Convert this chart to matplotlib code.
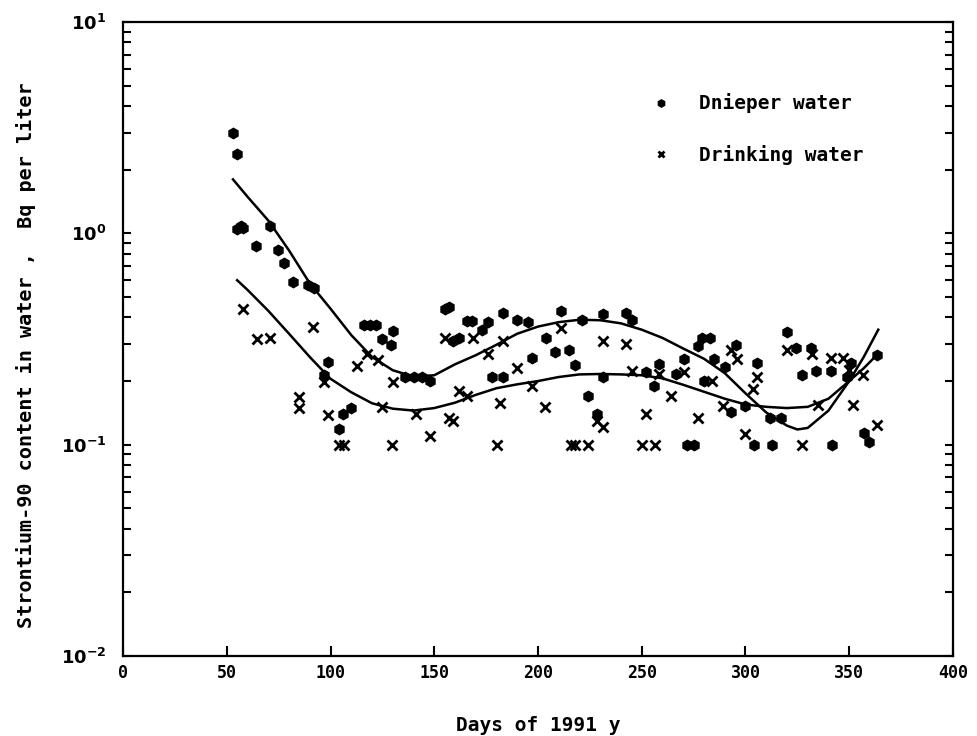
import numpy as np
import matplotlib
matplotlib.use("Agg")
import matplotlib.pyplot as plt

# Dnieper water measurements (day, Bq/l)
dnieper_day = [53, 55, 55, 57, 58, 64, 71, 74.6, 77.5, 82, 89, 92,
               97, 99, 104, 106, 110,
               116, 119, 122, 125, 129, 130,
               136, 140, 144, 148,
               155, 157, 159, 162, 166, 168, 173, 176, 178, 183, 183, 190, 195, 197,
               204, 208, 211, 215, 218, 221, 224, 228.6, 231.5, 231.5, 242.6, 245.5,
               252, 256, 258.5, 266.7, 270.5, 272, 275,
               277, 279, 283, 280, 285, 290, 293, 295.5, 300, 304, 305.6,
               312, 313, 317, 320, 324.4, 327.3, 331.6, 334, 341.3, 341.8,
               349, 351, 357, 359.6, 363.4]
dnieper_val = [3.0, 2.37, 1.05, 1.08, 1.06, 0.87, 1.08, 0.83, 0.72, 0.59, 0.57, 0.55,
               0.213, 0.246, 0.119, 0.14, 0.149,
               0.37, 0.37, 0.37, 0.316, 0.296, 0.345,
               0.21, 0.21, 0.21, 0.20,
               0.44, 0.45, 0.31, 0.32, 0.385, 0.385, 0.35, 0.38, 0.21, 0.21, 0.42, 0.39, 0.38, 0.257,
               0.32, 0.274, 0.43, 0.28, 0.238, 0.39, 0.17, 0.14, 0.415, 0.209, 0.42, 0.39,
               0.22, 0.19, 0.24, 0.215, 0.254, 0.1, 0.1,
               0.293, 0.32, 0.32, 0.20, 0.254, 0.233, 0.143, 0.296, 0.152, 0.1, 0.243,
               0.134, 0.1, 0.134, 0.34, 0.286, 0.213, 0.286, 0.223, 0.223, 0.1,
               0.209, 0.243, 0.113, 0.103, 0.265]

# Drinking water measurements
drink_day = [58, 64.5, 71, 84.7, 84.7, 91.5, 97, 99, 104, 106.4, 112.6, 117.4, 122.7,
             125, 129.5, 130, 141, 147.8, 155, 157, 159, 161.7, 166, 168.5, 175.7,
             180, 181.5, 183, 190, 197, 203.6, 211, 216, 218, 224.3, 228.6, 231.5,
             231.5, 242.6, 245.5, 250, 252, 256.6, 258.5, 264, 270.5, 277, 284, 289,
             293, 296, 300, 303.7, 305.6, 320, 327, 332, 335, 341, 347, 350, 352,
             356.7, 363.4]
drink_val = [0.44, 0.316, 0.32, 0.168, 0.149, 0.36, 0.198, 0.138, 0.1, 0.1, 0.235, 0.268, 0.251,
             0.15, 0.1, 0.198, 0.14, 0.11, 0.32, 0.134, 0.13, 0.18, 0.17, 0.32, 0.27,
             0.1, 0.157, 0.31, 0.23, 0.19, 0.151, 0.356, 0.1, 0.1, 0.1, 0.13, 0.121,
             0.31, 0.30, 0.223, 0.1, 0.14, 0.1, 0.215, 0.17, 0.22, 0.134, 0.20, 0.152,
             0.28, 0.254, 0.112, 0.183, 0.21, 0.28, 0.1, 0.27, 0.154, 0.257, 0.257, 0.225, 0.154,
             0.213, 0.124]

# fitted trend curves
fit_d_day = [53, 60, 70, 80, 90, 100, 110, 120, 130, 140, 150, 160, 170, 180, 190, 200,
             210, 220, 230, 240, 250, 260, 270, 280, 290, 300, 310, 320, 325, 330, 340,
             350, 357, 364]
fit_d_val = [1.8, 1.49, 1.15, 0.83, 0.58, 0.44, 0.33, 0.26, 0.225, 0.21, 0.213, 0.24,
             0.265, 0.297, 0.335, 0.362, 0.38, 0.39, 0.388, 0.375, 0.35, 0.32, 0.285,
             0.255, 0.218, 0.175, 0.142, 0.123, 0.118, 0.12, 0.145, 0.2, 0.26, 0.35]
fit_w_day = [55, 60, 70, 80, 90, 100, 110, 120, 130, 140, 150, 160, 170, 180, 190, 200,
             210, 220, 230, 240, 250, 260, 270, 280, 290, 300, 310, 320, 330, 340, 350,
             357, 364]
fit_w_val = [0.6, 0.54, 0.43, 0.335, 0.26, 0.205, 0.177, 0.157, 0.148, 0.145, 0.149,
             0.158, 0.172, 0.185, 0.193, 0.2, 0.209, 0.215, 0.216, 0.215, 0.213, 0.206,
             0.192, 0.178, 0.165, 0.155, 0.151, 0.149, 0.151, 0.165, 0.2, 0.23, 0.27]

plt.rcParams["font.family"] = ["DejaVu Sans Mono"]
plt.rcParams["font.weight"] = "bold"

fig = plt.figure(figsize=(9.78, 7.36), dpi=100)
ax = fig.add_axes([0.1258, 0.1087, 0.8486, 0.8614])

ax.plot(dnieper_day, dnieper_val, "h", color="black", ms=7.5, ls="none",
        label="Dnieper water")
ax.plot(drink_day, drink_val, "x", color="black", ms=6.5, mew=2, ls="none",
        label="Drinking water")
ax.plot(fit_d_day, fit_d_val, "-", color="black", lw=1.8)
ax.plot(fit_w_day, fit_w_val, "-", color="black", lw=1.8)

ax.set_yscale("log")
ax.set_xlim(0, 400)
ax.set_ylim(0.01, 10)
ax.set_xticks(range(0, 401, 50))
ax.set_xticklabels([str(v) for v in range(0, 401, 50)], fontsize=12, fontweight="bold")
ax.set_yticks([0.01, 0.1, 1, 10])
ax.set_yticklabels([r"$\mathbf{10^{-2}}$", r"$\mathbf{10^{-1}}$",
                    r"$\mathbf{10^{0}}$", r"$\mathbf{10^{1}}$"], fontsize=13)
ax.tick_params(axis="x", direction="in", length=7, width=1.5, top=False, pad=6)
ax.tick_params(axis="y", which="both", direction="in", length=6, width=1.5,
               left=True, right=True, pad=12)
ax.tick_params(axis="x", which="minor", bottom=False)
for s in ax.spines.values():
    s.set_linewidth(1.6)

ax.set_xlabel("Days of 1991 y", fontsize=14, fontweight="bold")
ax.xaxis.set_label_coords(0.5, -0.095)
ax.set_ylabel("Strontium-90 content in water ,  Bq per liter", fontsize=14.5,
              fontweight="bold")
ax.yaxis.set_label_coords(-0.105, 0.475)

ax.legend(loc="upper left", bbox_to_anchor=(0.61, 0.915), frameon=False,
          fontsize=14, numpoints=1, labelspacing=1.6, handletextpad=1.2,
          markerscale=0.7, handlelength=1.5)

fig.savefig("out.png", dpi=100)
